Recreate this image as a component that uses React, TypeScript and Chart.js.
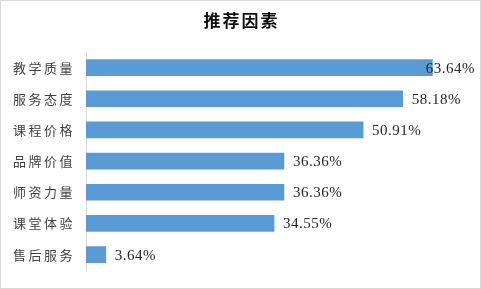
import React, { useEffect, useRef } from "react";
import { Chart, registerables } from "chart.js";

Chart.register(...registerables);

const TITLE = "推荐因素";
const categories = ["教学质量", "服务态度", "课程价格", "品牌价值", "师资力量", "课堂体验", "售后服务"];
const values = [63.64, 58.18, 50.91, 36.36, 36.36, 34.55, 3.64];
const valueLabels = ["63.64%", "58.18%", "50.91%", "36.36%", "36.36%", "34.55%", "3.64%"];
const axisMax = 70;

const W = 481;
const H = 289;

const extrasPlugin = {
  id: "extras",
  beforeDraw(chart: any) {
    (chart.ctx as any).letterSpacing = "2.5px";
  },
  afterDatasetsDraw(chart: any) {
    const ctx = chart.ctx;
    (ctx as any).letterSpacing = "0px";
    const meta = chart.getDatasetMeta(0);
    ctx.save();
    ctx.font = "15px 'Liberation Serif', 'Noto Sans CJK SC', serif";
    (ctx as any).letterSpacing = "0.5px";
    ctx.fillStyle = "#262626";
    ctx.textBaseline = "middle";
    ctx.textAlign = "left";
    meta.data.forEach((bar: any, i: number) => {
      const text = valueLabels[i];
      const w = ctx.measureText(text).width;
      let x = bar.x + 9;
      if (x + w > W - 6) x = W - 6 - w;
      ctx.fillText(text, x, bar.y + 1);
    });
    ctx.restore();
  },
  afterDraw(chart: any) {
    const ctx = chart.ctx;
    ctx.save();
    ctx.font = "bold 17px 'Noto Sans CJK SC', sans-serif";
    ctx.fillStyle = "#0d0d0d";
    ctx.textAlign = "center";
    ctx.textBaseline = "middle";
    (ctx as any).letterSpacing = "2px";
    ctx.fillText(TITLE, W / 2 + 1, 21);
    ctx.restore();
    ctx.save();
    ctx.strokeStyle = "#d9d9d9";
    ctx.lineWidth = 1;
    ctx.strokeRect(0.5, 0.5, W - 1, H - 1);
    ctx.restore();
  },
};

export default function App() {
  const ref = useRef<HTMLCanvasElement>(null);
  useEffect(() => {
    document.body.style.margin = "0";
    const chart = new Chart(ref.current!, {
      type: "bar",
      data: {
        labels: categories,
        datasets: [
          {
            data: values,
            backgroundColor: "#5b9bd5",
            barThickness: 16,
          },
        ],
      },
      options: {
        indexAxis: "y",
        responsive: false,
        animation: false,
        devicePixelRatio: 1,
        layout: { padding: { top: 52, right: 14, bottom: 15, left: 0 } },
        plugins: {
          legend: { display: false },
          title: { display: false },
          tooltip: { enabled: false },
        },
        scales: {
          x: { display: false, min: 0, max: axisMax },
          y: {
            afterFit: (s: any) => {
              s.width = 86;
            },
            grid: { display: false, drawTicks: false },
            border: { display: true, color: "#d9d9d9", width: 1 },
            ticks: {
              padding: 11,
              color: "#404040",
              font: { size: 13, family: "'Noto Sans CJK SC', sans-serif" },
            },
          },
        },
      },
      plugins: [extrasPlugin],
    });
    return () => chart.destroy();
  }, []);
  return (
    <div style={{ position: "fixed", left: 0, top: 0, width: W, height: H, background: "#fff" }}>
      <canvas ref={ref} width={W} height={H} style={{ display: "block" }} />
    </div>
  );
}
